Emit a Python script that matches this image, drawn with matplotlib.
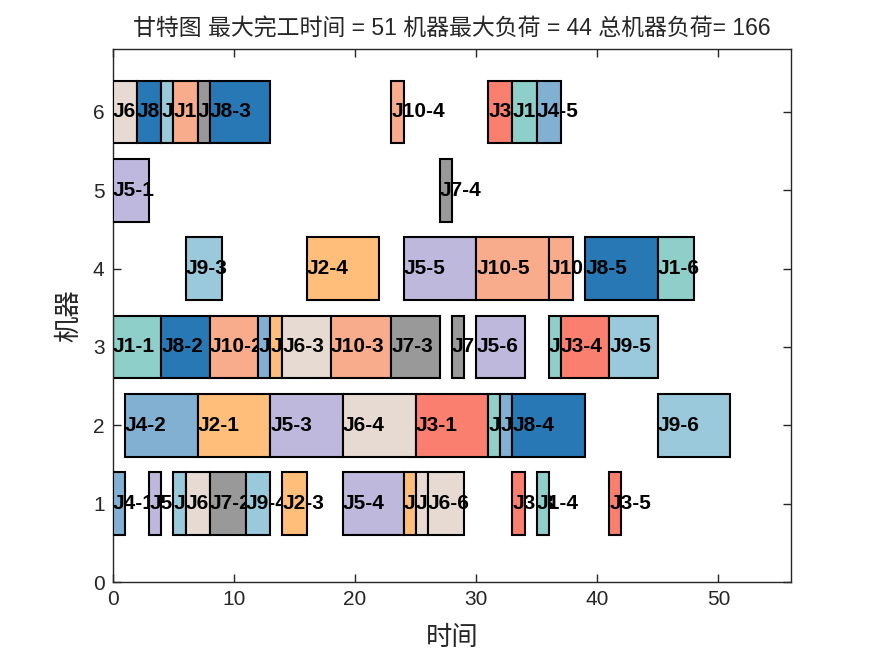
import numpy as np
import matplotlib
matplotlib.use("Agg")
import matplotlib.pyplot as plt
from matplotlib.patches import Rectangle

# 每个工序: 工件, 工序号, 机器, 开始时间, 加工时间
jobs      = [1, 1, 1, 1, 1, 1,
             2, 2, 2, 2, 2,
             3, 3, 3, 3, 3,
             4, 4, 4, 4, 4,
             5, 5, 5, 5, 5, 5,
             6, 6, 6, 6, 6, 6,
             7, 7, 7, 7, 7,
             8, 8, 8, 8, 8,
             9, 9, 9, 9, 9, 9,
             10, 10, 10, 10, 10, 10]
ops       = [1, 2, 3, 4, 5, 6,
             1, 2, 3, 4, 5,
             1, 2, 3, 4, 5,
             1, 2, 3, 4, 5,
             1, 2, 3, 4, 5, 6,
             1, 2, 3, 4, 5, 6,
             1, 2, 3, 4, 5,
             1, 2, 3, 4, 5,
             1, 2, 3, 4, 5, 6,
             1, 2, 3, 4, 5, 6]
machines  = [3, 2, 6, 1, 3, 4,
             2, 3, 1, 4, 1,
             2, 6, 1, 3, 1,
             1, 2, 3, 2, 6,
             5, 1, 2, 1, 4, 3,
             6, 1, 3, 2, 1, 1,
             6, 1, 3, 5, 3,
             6, 3, 6, 2, 4,
             6, 1, 4, 1, 3, 2,
             6, 3, 3, 6, 4, 4]
starts    = [0, 31, 33, 35, 36, 45,
             7, 13, 14, 16, 24,
             25, 31, 33, 37, 41,
             0, 1, 12, 32, 35,
             0, 3, 13, 19, 24, 30,
             0, 6, 14, 19, 25, 26,
             7, 8, 23, 27, 28,
             2, 4, 8, 33, 39,
             4, 5, 6, 11, 41, 45,
             5, 8, 18, 23, 30, 36]
durations = [4, 1, 2, 1, 1, 3,
             6, 1, 2, 6, 1,
             6, 2, 1, 4, 1,
             1, 6, 1, 1, 2,
             3, 1, 6, 5, 6, 4,
             2, 2, 4, 6, 1, 3,
             1, 3, 4, 1, 1,
             2, 4, 5, 6, 6,
             1, 1, 3, 2, 4, 6,
             2, 4, 5, 1, 6, 2]

job_colors = ['#8ECFC9', '#FFBE7A', '#FA7F6F', '#82B0D2', '#BEB8DC',
              '#E7DAD2', '#999999', '#2878B5', '#9AC9DB', '#F8AC8C']

plt.rcParams['font.family'] = ['Liberation Sans', 'Noto Sans CJK SC']

fig = plt.figure(figsize=(8.75, 6.56), dpi=100)
ax = fig.add_axes([0.129, 0.1128, 0.775, 0.8122])

# 按开始时间顺序绘制, 后画的方块会盖住前面的文字
order = np.argsort(starts, kind='stable')
for k, i in enumerate(order):
    rect = Rectangle((starts[i], machines[i] - 0.4), durations[i], 0.8,
                     facecolor=job_colors[jobs[i] - 1], edgecolor='black',
                     linewidth=1.5, zorder=2 + 2 * k)
    ax.add_patch(rect)
    ax.text(starts[i], machines[i], 'J%d-%d' % (jobs[i], ops[i]),
            ha='left', va='center', fontsize=15, fontweight='bold',
            color='black', zorder=3 + 2 * k)

makespan = max(s + d for s, d in zip(starts, durations))
loads = [sum(d for m, d in zip(machines, durations) if m == mm) for mm in range(1, 7)]
total = sum(durations)

ax.set_xlim(0, 56)
ax.set_ylim(0, 6.8)
ax.set_xticks([0, 10, 20, 30, 40, 50])
ax.set_yticks([0, 1, 2, 3, 4, 5, 6])
ax.tick_params(direction='in', length=6, width=1, labelsize=15,
               top=True, right=True, colors='#262626', pad=6)
for sp in ax.spines.values():
    sp.set_color('#262626')
    sp.set_linewidth(1)

ax.set_title('甘特图 最大完工时间 = %d 机器最大负荷 = %d 总机器负荷= %d'
             % (makespan, max(loads), total), fontsize=16.5, color='#262626',
             pad=10, fontweight='light')
ax.set_xlabel('时间', fontsize=19, color='#262626', labelpad=12, fontweight='light')
ax.set_ylabel('机器', fontsize=19, color='#262626', labelpad=8, fontweight='light')

fig.savefig('out.png', dpi=100)
